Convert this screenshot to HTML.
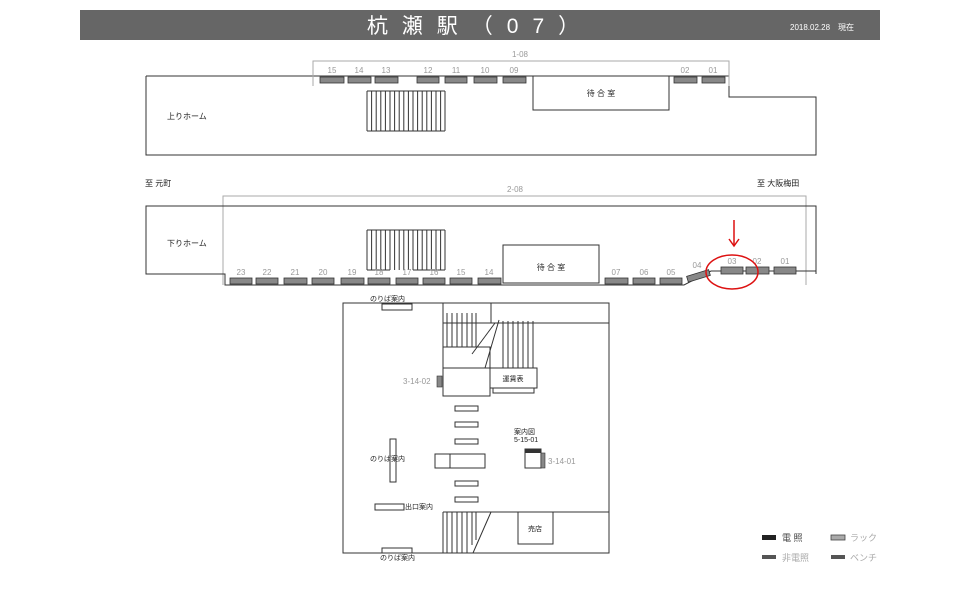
<!DOCTYPE html>
<html><head><meta charset="utf-8"><style>
html,body{margin:0;padding:0;background:#fff;}
svg{display:block}
text{font-family:"Liberation Sans","Noto Sans CJK JP",sans-serif;}
</style></head><body>
<svg width="960" height="605" viewBox="0 0 960 605" xmlns="http://www.w3.org/2000/svg">
<rect x="80" y="10" width="800" height="30" fill="#666"/>
<text x="480" y="33" fill="#fff" font-size="21" text-anchor="middle" letter-spacing="14">杭瀬駅（07）</text>
<text x="790" y="30" fill="#fff" font-size="8">2018.02.28　現在</text>

<g fill="none" stroke="#333" stroke-width="1">
<!-- top platform -->
<polyline points="146,76 729,76 729,97 816,97 816,155 146,155 146,76"/>
<rect x="533" y="76" width="136" height="34"/>
<!-- stairs top -->
<line x1="367" y1="91" x2="445" y2="91"/>
<line x1="367" y1="131" x2="445" y2="131"/>
</g>
<g stroke="#333" stroke-width="1">
<line x1="367" y1="91" x2="367" y2="131"/><line x1="371.6" y1="91" x2="371.6" y2="131"/><line x1="376.2" y1="91" x2="376.2" y2="131"/><line x1="380.8" y1="91" x2="380.8" y2="131"/><line x1="385.4" y1="91" x2="385.4" y2="131"/><line x1="390" y1="91" x2="390" y2="131"/><line x1="394.6" y1="91" x2="394.6" y2="131"/><line x1="399.2" y1="91" x2="399.2" y2="131"/><line x1="403.8" y1="91" x2="403.8" y2="131"/><line x1="408.4" y1="91" x2="408.4" y2="131"/><line x1="413" y1="91" x2="413" y2="131"/><line x1="417.6" y1="91" x2="417.6" y2="131"/><line x1="422.2" y1="91" x2="422.2" y2="131"/><line x1="426.8" y1="91" x2="426.8" y2="131"/><line x1="431.4" y1="91" x2="431.4" y2="131"/><line x1="436" y1="91" x2="436" y2="131"/><line x1="440.6" y1="91" x2="440.6" y2="131"/><line x1="445" y1="91" x2="445" y2="131"/>
</g>
<polyline points="313,86 313,61 729,61 729,86" fill="none" stroke="#aaa"/>
<text x="520" y="57" font-size="8" fill="#999" text-anchor="middle">1-08</text>
<g fill="#888" stroke="#333" stroke-width="0.8">
<rect x="320" y="77" width="24" height="6"/><rect x="348" y="77" width="23" height="6"/><rect x="375" y="77" width="23" height="6"/><rect x="417" y="77" width="22" height="6"/><rect x="445" y="77" width="22" height="6"/><rect x="474" y="77" width="23" height="6"/><rect x="503" y="77" width="23" height="6"/><rect x="674" y="77" width="23" height="6"/><rect x="702" y="77" width="23" height="6"/>
</g>
<g font-size="8" fill="#999" text-anchor="middle">
<text x="332" y="73">15</text><text x="359" y="73">14</text><text x="386" y="73">13</text><text x="428" y="73">12</text><text x="456" y="73">11</text><text x="485" y="73">10</text><text x="514" y="73">09</text><text x="685" y="73">02</text><text x="713" y="73">01</text>
</g>
<text x="601" y="96" font-size="8" text-anchor="middle" fill="#222">待 合 室</text>
<text x="167" y="119" font-size="8" fill="#222">上りホーム</text>
<text x="145" y="186" font-size="8" fill="#222">至  元町</text>
<text x="757" y="186" font-size="8" fill="#222">至  大阪梅田</text>

<!-- lower platform -->
<polyline points="223,285 223,196 806,196 806,285" fill="none" stroke="#aaa"/>
<text x="515" y="192" font-size="8" fill="#999" text-anchor="middle">2-08</text>
<g fill="none" stroke="#333" stroke-width="1">
<polyline points="816,274 816,206 146,206 146,274 225,274 225,285 684,285 711,271 816,271"/>
<rect x="503" y="245" width="96" height="38" fill="#fff"/>
<line x1="367" y1="230" x2="445" y2="230"/>
</g>
<g stroke="#333" stroke-width="1">
<line x1="367" y1="230" x2="367" y2="270"/><line x1="371.6" y1="230" x2="371.6" y2="270"/><line x1="376.2" y1="230" x2="376.2" y2="270"/><line x1="380.8" y1="230" x2="380.8" y2="270"/><line x1="385.4" y1="230" x2="385.4" y2="270"/><line x1="390" y1="230" x2="390" y2="270"/><line x1="394.6" y1="230" x2="394.6" y2="270"/><line x1="399.2" y1="230" x2="399.2" y2="270"/><line x1="403.8" y1="230" x2="403.8" y2="270"/><line x1="408.4" y1="230" x2="408.4" y2="270"/><line x1="413" y1="230" x2="413" y2="270"/><line x1="417.6" y1="230" x2="417.6" y2="270"/><line x1="422.2" y1="230" x2="422.2" y2="270"/><line x1="426.8" y1="230" x2="426.8" y2="270"/><line x1="431.4" y1="230" x2="431.4" y2="270"/><line x1="436" y1="230" x2="436" y2="270"/><line x1="440.6" y1="230" x2="440.6" y2="270"/><line x1="445" y1="230" x2="445" y2="270"/>
<line x1="367" y1="270" x2="390" y2="270"/><line x1="413" y1="270" x2="445" y2="270"/>
</g>
<g fill="#888" stroke="#333" stroke-width="0.8">
<rect x="230" y="278" width="22" height="6"/><rect x="256" y="278" width="22" height="6"/><rect x="284" y="278" width="23" height="6"/><rect x="312" y="278" width="22" height="6"/><rect x="341" y="278" width="23" height="6"/><rect x="368" y="278" width="22" height="6"/><rect x="396" y="278" width="22" height="6"/><rect x="423" y="278" width="22" height="6"/><rect x="450" y="278" width="22" height="6"/><rect x="478" y="278" width="23" height="6"/><rect x="605" y="278" width="23" height="6"/><rect x="633" y="278" width="22" height="6"/><rect x="660" y="278" width="22" height="6"/>
<rect x="687" y="273" width="23" height="6" transform="rotate(-17 698 276)"/>
<rect x="721" y="267" width="22" height="7"/><rect x="746" y="267" width="23" height="7"/><rect x="774" y="267" width="22" height="7"/>
</g>
<g font-size="8" fill="#999" text-anchor="middle">
<text x="241" y="275">23</text><text x="267" y="275">22</text><text x="295" y="275">21</text><text x="323" y="275">20</text><text x="352" y="275">19</text><text x="379" y="275">18</text><text x="407" y="275">17</text><text x="434" y="275">16</text><text x="461" y="275">15</text><text x="489" y="275">14</text><text x="616" y="275">07</text><text x="644" y="275">06</text><text x="671" y="275">05</text><text x="697" y="268">04</text><text x="732" y="264">03</text><text x="757" y="264">02</text><text x="785" y="264">01</text>
</g>
<text x="551" y="270" font-size="8" text-anchor="middle" fill="#222">待 合 室</text>
<text x="167" y="246" font-size="8" fill="#222">下りホーム</text>
<ellipse cx="732" cy="272" rx="26" ry="17" fill="none" stroke="#d11" stroke-width="1.5"/>
<line x1="734" y1="220" x2="734" y2="245" stroke="#d11" stroke-width="1.5"/>
<polyline points="729,239 734,246 739,239" fill="none" stroke="#d11" stroke-width="1.5"/>

<!-- concourse -->
<g fill="none" stroke="#333" stroke-width="1">
<rect x="343" y="303" width="266" height="250"/>
<rect x="443" y="303" width="166" height="20"/>
<rect x="443" y="347" width="47" height="21" fill="#fff"/>
<rect x="443" y="368" width="47" height="28" fill="#fff"/>
<rect x="490" y="368" width="47" height="20" fill="#fff"/>
<rect x="493" y="388" width="41" height="5"/>
<line x1="443" y1="303" x2="443" y2="347"/>
<line x1="491" y1="303" x2="491" y2="323"/>
<line x1="495" y1="323" x2="472" y2="354"/>
<line x1="499" y1="320" x2="485" y2="368"/>
<rect x="455" y="406" width="23" height="5"/><rect x="455" y="422" width="23" height="5"/><rect x="455" y="439" width="23" height="5"/><rect x="455" y="481" width="23" height="5"/><rect x="455" y="497" width="23" height="5"/>
<rect x="435" y="454" width="50" height="14"/><line x1="450" y1="454" x2="450" y2="468"/>
<rect x="525" y="449" width="16" height="19"/>
<rect x="390" y="439" width="6" height="43"/>
<rect x="375" y="504" width="29" height="6"/>
<rect x="382" y="304" width="30" height="6"/>
<rect x="382" y="548" width="30" height="5"/>
<line x1="443" y1="512" x2="609" y2="512"/>
<line x1="443" y1="512" x2="443" y2="553"/>
<line x1="491" y1="512" x2="473" y2="553"/>
<rect x="518" y="512" width="35" height="32"/>
</g>
<g stroke="#333" stroke-width="1">
<line x1="447" y1="313" x2="447" y2="347"/><line x1="452" y1="313" x2="452" y2="347"/><line x1="457" y1="313" x2="457" y2="347"/><line x1="462" y1="313" x2="462" y2="347"/><line x1="467" y1="313" x2="467" y2="347"/><line x1="472" y1="313" x2="472" y2="347"/><line x1="476" y1="313" x2="476" y2="347"/>
<line x1="503" y1="321" x2="503" y2="368"/><line x1="508" y1="321" x2="508" y2="368"/><line x1="513" y1="321" x2="513" y2="368"/><line x1="518" y1="321" x2="518" y2="368"/><line x1="523" y1="321" x2="523" y2="368"/><line x1="528" y1="321" x2="528" y2="368"/><line x1="533" y1="321" x2="533" y2="368"/>
<line x1="447" y1="512" x2="447" y2="553"/><line x1="452" y1="512" x2="452" y2="553"/><line x1="457" y1="512" x2="457" y2="553"/><line x1="462" y1="512" x2="462" y2="553"/><line x1="467" y1="512" x2="467" y2="553"/><line x1="472" y1="512" x2="472" y2="545"/><line x1="476" y1="512" x2="476" y2="540"/>
</g>
<rect x="525" y="449" width="16" height="4" fill="#333"/>
<rect x="541" y="453" width="4" height="15" fill="#888" stroke="#333" stroke-width="0.6"/>
<rect x="437" y="376" width="5" height="11" fill="#888" stroke="#333" stroke-width="0.6"/>
<g font-size="7" fill="#222">
<text x="513" y="381" text-anchor="middle">運賃表</text>
<text x="514" y="434">案内図</text>
<text x="514" y="442">5-15-01</text>
<text x="370" y="461">のりば案内</text>
<text x="405" y="509">出口案内</text>
<text x="370" y="301">のりば案内</text>
<text x="380" y="560">のりば案内</text>
<text x="535" y="531" text-anchor="middle">売店</text>
</g>
<text x="403" y="384" font-size="8" fill="#999">3-14-02</text>
<text x="548" y="464" font-size="8" fill="#999">3-14-01</text>

<!-- legend -->
<rect x="762" y="535" width="14" height="5" fill="#222"/>
<text x="782" y="541" font-size="9" fill="#444">電  照</text>
<rect x="831" y="535" width="14" height="5" fill="#aaa" stroke="#444" stroke-width="0.8"/>
<text x="850" y="541" font-size="9" fill="#aaa">ラック</text>
<rect x="762" y="555" width="14" height="4" fill="#555"/>
<text x="782" y="561" font-size="9" fill="#aaa">非電照</text>
<rect x="831" y="555" width="14" height="4" fill="#555"/>
<text x="850" y="561" font-size="9" fill="#aaa">ベンチ</text>
</svg>
</body></html>
